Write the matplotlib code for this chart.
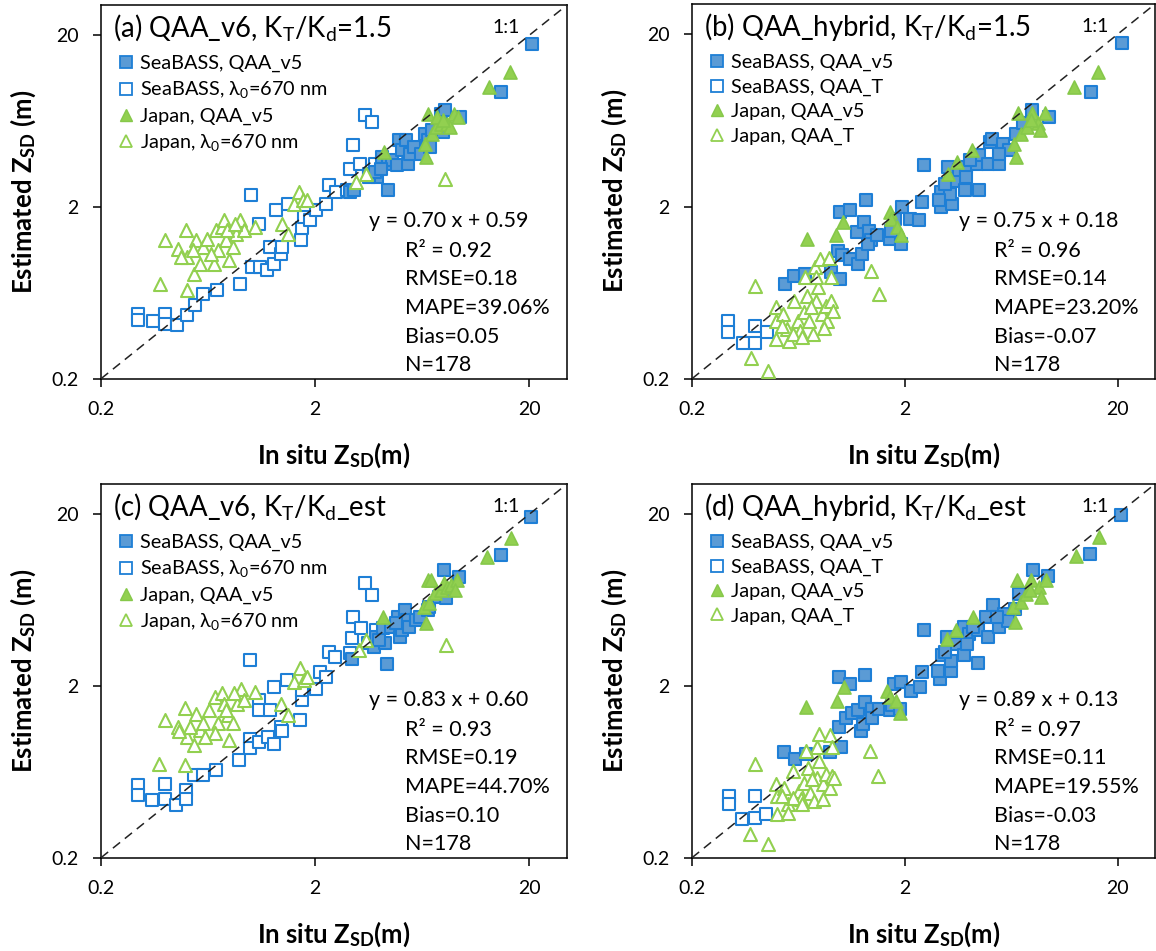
import matplotlib
matplotlib.use('Agg')
import matplotlib.pyplot as plt
from matplotlib.lines import Line2D

plt.rcParams['font.family'] = ['Lato', 'DejaVu Sans']
plt.rcParams['mathtext.fontset'] = 'custom'
plt.rcParams['mathtext.rm'] = 'Lato'
plt.rcParams['mathtext.bf'] = 'Lato:bold'
plt.rcParams['mathtext.it'] = 'Lato:italic'

# ---- panel (a): QAA_v6, KT/Kd = 1.5 ----
a_sb_v5 = [(2.91, 2.45), (3.05, 2.50), (3.58, 3.12), (3.88, 2.99), (4.12, 3.91), (4.37, 2.50),
           (4.37, 3.58), (4.55, 3.74), (4.82, 3.50), (4.92, 4.89), (5.11, 4.28), (5.32, 4.89),
           (5.43, 3.58), (5.53, 4.09), (5.76, 4.47), (6.22, 4.09), (6.49, 5.35), (6.75, 4.89),
           (6.88, 4.47), (7.02, 5.6), (7.75, 7.0), (7.91, 5.47), (8.06, 7.31), (9.45, 6.69),
           (14.7, 9.36), (20.5, 17.9), (3.58, 2.99), (3.80, 3.19), (4.04, 3.34)]
a_sb_670 = [(0.297, 0.478), (0.297, 0.437), (0.348, 0.433), (0.400, 0.478), (0.400, 0.418),
            (0.452, 0.409), (0.503, 0.467), (0.550, 0.535), (0.602, 0.625), (0.697, 0.659),
            (0.895, 0.715), (1.01, 0.894), (1.00, 2.34), (1.09, 1.60), (1.11, 0.894),
            (1.19, 0.856), (1.23, 1.17), (1.29, 0.934), (1.31, 1.91), (1.39, 1.07),
            (1.40, 1.17), (1.49, 2.09), (1.72, 1.28), (1.74, 1.50), (1.77, 1.75),
            (1.90, 1.67), (2.02, 1.91), (2.24, 2.09), (2.32, 2.68), (2.50, 2.45),
            (2.91, 3.34), (2.99, 4.57), (3.24, 3.58), (3.41, 6.85), (3.69, 6.26),
            (3.80, 3.58), (2.81, 2.50)]
a_jp_v5 = [(4.20, 4.18), (6.49, 4.68), (6.61, 3.91), (6.75, 7.0), (7.02, 5.35), (7.30, 5.85),
           (7.75, 6.12), (8.22, 6.12), (8.56, 5.85), (8.90, 7.0), (9.27, 6.69), (7.45, 6.69),
           (12.9, 10.0), (16.2, 12.2), (7.91, 6.40)]
a_jp_670 = [(0.376, 0.715), (0.397, 1.28), (0.457, 1.14), (0.499, 1.46), (0.503, 0.653),
            (0.503, 1.02), (0.546, 0.819), (0.556, 1.28), (0.578, 0.934), (0.596, 1.17),
            (0.626, 1.31), (0.690, 1.46), (0.703, 1.12), (0.734, 1.53), (0.748, 1.67),
            (0.763, 1.28), (0.794, 0.976), (0.825, 1.17), (0.858, 1.40), (0.895, 1.67),
            (0.931, 1.46), (1.05, 1.53), (1.40, 1.60), (1.50, 1.40), (1.59, 2.09),
            (1.69, 2.45), (1.76, 2.19), (1.83, 2.19), (3.11, 2.80), (3.44, 3.12),
            (8.06, 2.92), (0.677, 0.934), (0.651, 1.07), (0.535, 1.12), (0.474, 1.02),
            (0.778, 1.46), (0.842, 1.60)]

# ---- panel (b): QAA_hybrid, KT/Kd = 1.5 ----
b_sb_v5 = [(0.549, 0.709), (0.606, 0.793), (0.682, 0.810), (0.900, 0.828), (0.994, 0.758),
           (0.975, 1.11), (1.01, 1.04), (1.10, 0.991), (0.994, 1.85), (1.10, 1.90),
           (1.31, 2.17), (1.19, 1.42), (1.29, 1.62), (1.36, 1.45), (1.39, 1.27),
           (1.21, 0.927), (1.26, 1.06), (1.34, 1.21), (1.48, 1.36), (1.70, 1.30),
           (1.73, 1.45), (1.91, 1.21), (1.80, 1.69), (1.95, 1.98), (2.11, 1.69),
           (2.33, 1.66), (2.42, 2.12), (2.47, 3.47), (2.95, 1.98), (2.95, 2.42),
           (3.20, 3.39), (3.33, 2.07), (3.26, 2.37), (3.46, 2.83), (3.60, 3.24),
           (3.82, 2.48), (3.90, 3.39), (4.39, 3.55), (4.48, 2.48), (4.48, 3.96),
           (4.94, 3.55), (5.04, 4.74), (5.14, 4.96), (5.57, 3.55), (5.79, 4.63),
           (6.15, 4.24), (6.65, 5.30), (7.20, 6.07), (7.94, 7.25), (9.51, 6.63),
           (15.0, 9.27), (21.0, 17.7), (3.90, 2.97), (3.08, 2.71), (4.05, 3.71),
           (2.90, 2.17), (5.57, 4.05)]
b_sb_t = [(0.295, 0.434), (0.295, 0.371), (0.348, 0.324), (0.397, 0.406), (0.397, 0.324),
          (0.450, 0.371)]
b_jp_v5 = [(0.696, 1.30), (0.955, 1.36), (1.03, 1.62), (1.70, 1.85), (1.73, 1.69), (1.84, 1.52),
           (1.91, 1.36), (3.20, 3.10), (3.53, 3.63), (4.13, 4.24), (6.52, 4.63), (6.65, 3.88),
           (6.79, 6.94), (7.06, 5.30), (7.49, 5.80), (7.94, 6.94), (8.43, 6.07), (9.14, 6.94),
           (8.61, 5.54), (12.5, 9.91), (16.2, 12.1), (7.80, 6.34)]
b_jp_t = [(0.377, 0.265), (0.397, 0.693), (0.456, 0.222), (0.497, 0.519), (0.497, 0.434),
          (0.497, 0.339), (0.538, 0.474), (0.560, 0.387), (0.571, 0.331), (0.606, 0.567),
          (0.630, 0.434), (0.643, 0.379), (0.669, 0.485), (0.682, 0.775), (0.696, 0.607),
          (0.710, 0.434), (0.739, 0.363), (0.753, 0.886), (0.769, 0.567), (0.784, 0.678),
          (0.800, 0.991), (0.816, 0.474), (0.849, 0.530), (0.866, 0.434), (0.900, 0.567),
          (0.918, 0.496), (0.883, 1.01), (0.900, 0.775), (1.39, 0.848), (1.51, 0.620),
          (0.594, 0.363), (0.527, 0.406), (0.656, 0.347), (0.769, 0.775), (0.725, 0.519),
          (0.832, 0.396)]

# ---- panel (c): QAA_v6, KT/Kd_est ----
c_sb_v5 = [(2.96, 2.89), (3.54, 3.54), (3.76, 3.38), (3.83, 3.87), (4.24, 3.54), (4.32, 2.70),
           (4.15, 4.33), (4.50, 4.43), (4.87, 5.06), (4.96, 3.87), (5.07, 4.23), (5.27, 5.54),
           (5.38, 4.84), (5.49, 4.43), (5.94, 4.84), (6.18, 5.06), (6.70, 5.54), (6.83, 5.79),
           (7.54, 6.62), (8.0, 9.47), (8.2, 6.48), (9.4, 8.67), (14.8, 11.6), (20.4, 19.4),
           (4.79, 4.63), (3.97, 3.70)]
c_sb_670 = [(0.298, 0.528), (0.298, 0.462), (0.345, 0.432), (0.397, 0.540), (0.397, 0.442),
            (0.447, 0.404), (0.500, 0.494), (0.500, 0.442), (0.545, 0.604), (0.602, 0.604),
            (0.692, 0.646), (0.886, 0.739), (0.991, 0.988), (0.991, 0.865), (0.991, 2.83),
            (1.09, 1.65), (1.09, 1.45), (1.09, 0.945), (1.20, 1.01), (1.23, 1.45),
            (1.28, 0.924), (1.28, 1.98), (1.39, 1.16), (1.40, 1.10), (1.48, 2.16),
            (1.70, 1.26), (1.73, 1.65), (1.74, 1.89), (2.01, 1.93), (2.11, 2.42),
            (2.24, 2.26), (2.33, 3.16), (2.47, 2.96), (2.96, 3.78), (3.01, 5.06),
            (3.27, 4.33), (3.41, 7.92), (3.68, 6.77), (3.83, 4.23), (2.90, 3.10)]
c_jp_v5 = [(4.15, 5.06), (6.56, 4.63), (6.70, 8.28), (6.97, 8.28), (6.43, 5.79), (6.83, 6.05),
           (7.25, 6.92), (7.7, 7.24), (8.0, 7.92), (8.3, 7.57), (8.6, 7.74), (9.2, 8.28),
           (9.0, 7.24), (12.7, 11.3), (16.4, 14.5)]
c_jp_670 = [(0.373, 0.707), (0.397, 1.26), (0.456, 1.16), (0.493, 1.48), (0.493, 0.691),
            (0.503, 1.01), (0.545, 0.904), (0.556, 1.38), (0.579, 1.11), (0.602, 1.21),
            (0.640, 1.45), (0.679, 1.73), (0.707, 1.21), (0.735, 1.81), (0.75, 1.58),
            (0.780, 1.35), (0.795, 0.966), (0.828, 1.21), (0.86, 1.58), (0.897, 1.93),
            (0.93, 1.65), (1.05, 1.85), (1.39, 1.58), (1.50, 1.35), (1.60, 2.11),
            (1.70, 2.53), (1.77, 2.16), (1.84, 2.26), (3.21, 3.24), (3.47, 3.70),
            (8.2, 3.46), (0.679, 1.06), (0.61, 1.01), (0.52, 1.16), (0.465, 1.09),
            (0.77, 1.45), (0.84, 1.81)]

# ---- panel (d): QAA_hybrid, KT/Kd_est ----
d_sb_v5 = [(0.543, 0.820), (0.611, 0.750), (0.689, 0.802), (0.891, 0.820), (1.00, 0.877),
           (0.984, 1.15), (1.06, 1.31), (1.13, 1.40), (0.984, 2.25), (1.11, 2.06),
           (1.30, 2.33), (1.20, 1.44), (1.30, 1.61), (1.41, 1.47), (1.25, 1.10),
           (1.27, 1.20), (1.41, 1.31), (1.52, 1.47), (1.71, 1.44), (1.75, 1.54),
           (1.89, 1.47), (1.78, 2.06), (1.93, 2.10), (2.13, 1.88), (2.35, 1.96),
           (2.40, 2.41), (2.45, 4.25), (2.93, 2.20), (2.99, 3.01), (3.17, 3.85),
           (3.30, 2.46), (3.30, 2.81), (3.50, 3.52), (3.79, 4.40), (3.79, 3.01),
           (4.02, 4.03), (4.44, 2.71), (4.44, 4.21), (4.80, 5.03), (4.90, 3.85),
           (5.20, 5.89), (5.52, 4.40), (5.85, 5.26), (6.09, 4.81), (6.60, 5.63),
           (6.86, 6.89), (8.04, 9.42), (9.42, 8.70), (14.9, 11.8), (20.8, 19.7),
           (3.94, 3.52), (3.10, 3.14), (4.18, 4.40), (2.87, 2.46), (5.41, 5.03)]
d_sb_t = [(0.297, 0.458), (0.297, 0.409), (0.344, 0.335), (0.395, 0.458), (0.395, 0.342),
          (0.445, 0.358)]
d_jp_v5 = [(0.689, 1.50), (0.964, 1.64), (1.04, 1.96), (1.65, 1.88), (1.71, 1.72), (1.82, 1.64),
           (1.89, 1.40), (3.17, 3.76), (3.50, 4.21), (4.18, 5.03), (6.46, 5.76), (6.60, 4.71),
           (6.73, 8.24), (7.00, 6.15), (7.43, 6.89), (7.88, 8.24), (8.53, 7.53), (9.23, 8.24),
           (8.70, 6.59), (12.7, 11.5), (16.4, 14.8), (7.73, 7.20)]
d_jp_t = [(0.373, 0.274), (0.395, 0.707), (0.454, 0.239), (0.498, 0.536), (0.502, 0.458),
          (0.502, 0.358), (0.543, 0.512), (0.565, 0.409), (0.565, 0.366), (0.599, 0.641),
          (0.636, 0.490), (0.650, 0.438), (0.675, 0.548), (0.689, 0.839), (0.703, 0.670),
          (0.716, 0.479), (0.745, 0.428), (0.791, 1.05), (0.775, 0.586), (0.791, 0.733),
          (0.891, 1.03), (0.823, 0.536), (0.857, 0.613), (0.891, 0.512), (0.908, 0.600),
          (0.926, 0.586), (0.908, 0.877), (1.38, 0.839), (1.49, 0.600), (0.599, 0.448),
          (0.530, 0.458), (0.661, 0.409), (0.775, 0.877), (0.730, 0.573), (0.823, 0.438)]

titles = [r'(a) QAA_v6, K$_\mathrm{T}$/K$_\mathrm{d}$=1.5',
          r'(b) QAA_hybrid, K$_\mathrm{T}$/K$_\mathrm{d}$=1.5',
          r'(c) QAA_v6, K$_\mathrm{T}$/K$_\mathrm{d}$_est',
          r'(d) QAA_hybrid, K$_\mathrm{T}$/K$_\mathrm{d}$_est']
labels_v6 = ['SeaBASS, QAA_v5', r'SeaBASS, λ$_0$=670 nm', 'Japan, QAA_v5', r'Japan, λ$_0$=670 nm']
labels_hy = ['SeaBASS, QAA_v5', 'SeaBASS, QAA_T', 'Japan, QAA_v5', 'Japan, QAA_T']
stats = [['y = 0.70 x + 0.59', 'R² = 0.92', 'RMSE=0.18', 'MAPE=39.06%', 'Bias=0.05', 'N=178'],
         ['y = 0.75 x + 0.18', 'R² = 0.96', 'RMSE=0.14', 'MAPE=23.20%', 'Bias=-0.07', 'N=178'],
         ['y = 0.83 x + 0.60', 'R² = 0.93', 'RMSE=0.19', 'MAPE=44.70%', 'Bias=0.10', 'N=178'],
         ['y = 0.89 x + 0.13', 'R² = 0.97', 'RMSE=0.11', 'MAPE=19.55%', 'Bias=-0.03', 'N=178']]

BLUE_F = '#5B9BD5'
BLUE_E = '#1E7FD6'
GREEN = '#92D050'
GREEN_E = '#86C84A'

fig = plt.figure(figsize=(11.56, 9.51), dpi=100)
W, H = 1156, 951
boxes = [(101, 5, 466, 373.7), (692, 4, 463, 374.7),
         (101, 484, 466, 373.7), (692, 484, 463, 373.7)]
panels = [(a_sb_v5, a_sb_670, a_jp_v5, a_jp_670, labels_v6),
          (b_sb_v5, b_sb_t, b_jp_v5, b_jp_t, labels_hy),
          (c_sb_v5, c_sb_670, c_jp_v5, c_jp_670, labels_v6),
          (d_sb_v5, d_sb_t, d_jp_v5, d_jp_t, labels_hy)]

for i, (box, pdata) in enumerate(zip(boxes, panels)):
    l, t, w, h = box
    ax = fig.add_axes([l / W, 1 - (t + h) / H, w / W, h / H])
    sb_v5, sb_o, jp_v5, jp_o, labs = pdata

    # squares first, triangles on top, 1:1 line over everything
    x, y = zip(*sb_o)
    ax.scatter(x, y, marker='s', s=76, facecolor='white', edgecolor=BLUE_E, linewidth=1.5, zorder=2)
    x, y = zip(*sb_v5)
    ax.scatter(x, y, marker='s', s=76, facecolor=BLUE_F, edgecolor=BLUE_E, linewidth=1.5, zorder=3)
    x, y = zip(*jp_v5)
    ax.scatter(x, y, marker='^', s=88, facecolor=GREEN, edgecolor=GREEN_E, linewidth=1.2, zorder=4)
    x, y = zip(*jp_o)
    ax.scatter(x, y, marker='^', s=88, facecolor='white', edgecolor=GREEN, linewidth=1.5, zorder=4)

    ax.plot([0.2, 30], [0.2, 30], color='#222222', lw=1.1, linestyle=(0, (6, 4)), zorder=6)

    ax.set_xscale('log')
    ax.set_yscale('log')
    ax.set_xlim(0.2, 30)
    ax.set_ylim(0.2, 30)
    ax.set_xticks([0.2, 2, 20])
    ax.set_xticklabels(['0.2', '2', '20'])
    ax.set_yticks([0.2, 2, 20])
    ax.set_yticklabels(['0.2', '2', '20'])
    ax.minorticks_off()
    ax.tick_params(direction='out', length=6, width=1.1, labelsize=14, pad=10)
    for sp in ax.spines.values():
        sp.set_linewidth(1.1)

    ax.set_xlabel(r'In situ Z$_\mathbf{SD}$(m)', fontsize=18.5, fontweight='bold', labelpad=16)
    ax.set_ylabel(r'Estimated Z$_\mathbf{SD}$ (m)', fontsize=18.5, fontweight='bold', labelpad=10)

    ax.text(0.025, 0.915, titles[i], transform=ax.transAxes, fontsize=19.8, va='baseline', ha='left')
    ax.text(0.87, 0.925, '1:1', transform=ax.transAxes, fontsize=14, va='baseline', ha='center')

    handles = [Line2D([], [], ls='none', marker='s', ms=8, mfc=BLUE_F, mec=BLUE_E, mew=1.3),
               Line2D([], [], ls='none', marker='s', ms=8, mfc='white', mec=BLUE_E, mew=1.3),
               Line2D([], [], ls='none', marker='^', ms=9, mfc=GREEN, mec=GREEN_E, mew=1.0),
               Line2D([], [], ls='none', marker='^', ms=9, mfc='white', mec=GREEN, mew=1.3)]
    ax.legend(handles, labs, loc='upper left', bbox_to_anchor=(0.037, 0.866), frameon=False,
              fontsize=14.3, handlelength=0.8, handletextpad=0.3, labelspacing=0.36,
              borderpad=0, borderaxespad=0)

    st = stats[i]
    ax.text(0.576, 0.406, st[0], transform=ax.transAxes, fontsize=15.5, va='baseline')
    for k, s in enumerate(st[1:]):
        ax.text(0.652, 0.326 - 0.0765 * k, s, transform=ax.transAxes, fontsize=15.5, va='baseline')

fig.savefig('out.png', dpi=100)
